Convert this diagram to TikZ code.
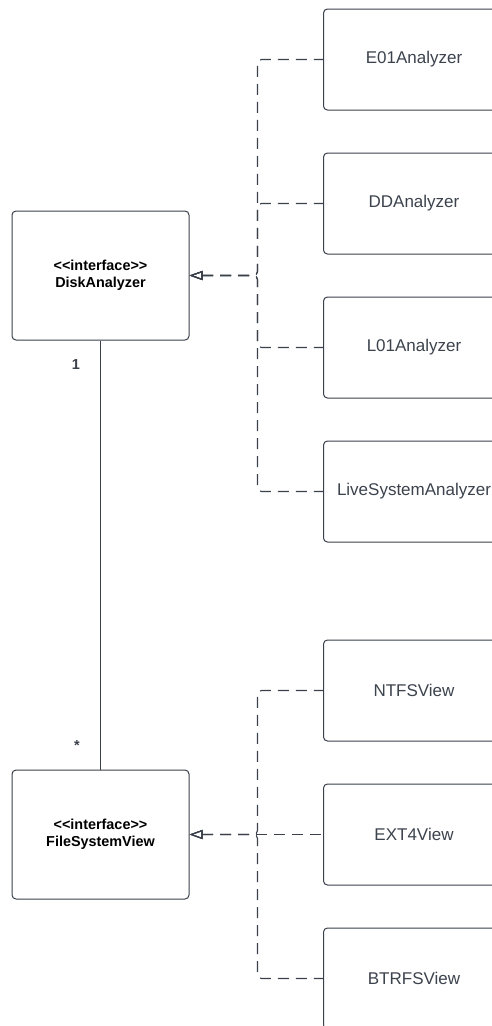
\documentclass[tikz,border=0pt]{standalone}
\usepackage{fontspec}
\setmainfont{Liberation Sans}
\usetikzlibrary{arrows.meta}
\definecolor{ln}{HTML}{3A414A}
\definecolor{tx}{HTML}{3C434D}
\begin{document}
\begin{tikzpicture}[x=1pt,y=-1pt,
  iface/.style={draw=ln, line width=1pt, rounded corners=4pt, minimum width=177pt, minimum height=129pt,
    inner sep=0pt, align=center, font=\fontsize{14.4}{17.5}\selectfont\bfseries, text=black},
  impl/.style={draw=ln, line width=1pt, rounded corners=4pt, minimum width=181pt, minimum height=101pt,
    inner sep=0pt, font=\fontsize{17}{20}\selectfont, text=tx},
  dep/.style={draw=ln, line width=1.1pt, dash pattern=on 11pt off 7pt, rounded corners=4pt,
    {Triangle[open, length=13pt, width=9pt]}-},
  assoc/.style={draw=ln, line width=1.1pt},
  mult/.style={font=\fontsize{14.5}{17}\selectfont\bfseries, text=ln, inner sep=0pt}
  ]
\clip (0,0) rectangle (492,1026);
\fill[white] (0,0) rectangle (492,1026);

\node[iface] (da) at (100.5,275.5) {<\kern0pt<interface>\kern0pt>\\DiskAnalyzer};
\node[iface] (fv) at (100.5,834.5) {<\kern0pt<interface>\kern0pt>\\FileSystemView};

\node[impl] (e01)  at (414,59.5)  {E01Analyzer};
\node[impl] (dd)   at (414,203.5) {DDAnalyzer};
\node[impl] (l01)  at (414,347.5) {L01Analyzer};
\node[impl] (live) at (414,491.5) {LiveSystemAnalyzer};
\node[impl] (ntfs) at (414,690.5) {NTFSView};
\node[impl] (ext4) at (414,834.5) {EXT4View};
\node[impl] (btrfs) at (414,978.5) {BTRFSView};

\coordinate (b1) at (257.5,275.5);
\coordinate (b2) at (257.5,834.5);

\draw[dep] (da.east) -- (b1) |- (e01.west);
\draw[dep] (da.east) -- (b1) |- (dd.west);
\draw[dep] (da.east) -- (b1) |- (l01.west);
\draw[dep] (da.east) -- (b1) |- (live.west);
\draw[dep] (fv.east) -- (b2) |- (ntfs.west);
\draw[dep] (fv.east) -- (ext4.west);
\draw[dep] (fv.east) -- (b2) |- (btrfs.west);

\draw[assoc] (da.south) -- (fv.north);
\node[mult] (m1) at (76,365) {1};
\node[mult] (m2) at (77,746) {*};
\end{tikzpicture}
\end{document}
